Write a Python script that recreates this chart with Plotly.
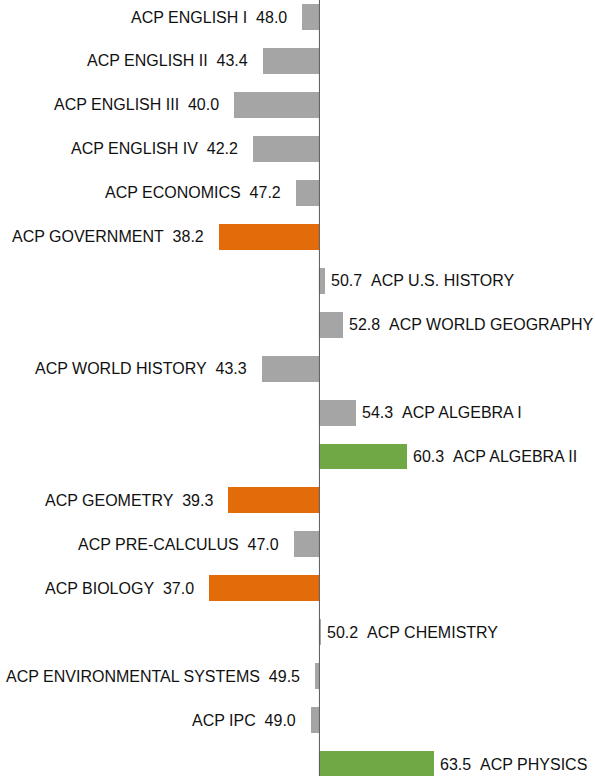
import plotly.graph_objects as go

# Course names, mean scores and highlight groups (top to bottom)
courses = [
    "ACP ENGLISH I", "ACP ENGLISH II", "ACP ENGLISH III", "ACP ENGLISH IV",
    "ACP ECONOMICS", "ACP GOVERNMENT", "ACP U.S. HISTORY", "ACP WORLD GEOGRAPHY",
    "ACP WORLD HISTORY", "ACP ALGEBRA I", "ACP ALGEBRA II", "ACP GEOMETRY",
    "ACP PRE-CALCULUS", "ACP BIOLOGY", "ACP CHEMISTRY", "ACP ENVIRONMENTAL SYSTEMS",
    "ACP IPC", "ACP PHYSICS",
]
scores = [48.0, 43.4, 40.0, 42.2, 47.2, 38.2, 50.7, 52.8, 43.3, 54.3,
          60.3, 39.3, 47.0, 37.0, 50.2, 49.5, 49.0, 63.5]
groups = ["mid", "mid", "mid", "mid", "mid", "low", "mid", "mid", "mid", "mid",
          "high", "low", "mid", "low", "mid", "mid", "mid", "high"]

baseline = 50.0
palette = {"mid": "#A5A5A5", "low": "#E36C0A", "high": "#70A845"}

fig = go.Figure()
fig.add_trace(go.Bar(
    y=courses,
    x=[s - baseline for s in scores],
    base=baseline,
    orientation="h",
    width=0.59,
    marker=dict(color=[palette[g] for g in groups], line=dict(width=0)),
    hoverinfo="skip",
    showlegend=False,
))

font = dict(family="Liberation Sans, Arial, sans-serif", size=16, color="#111111")
for name, s in zip(courses, scores):
    if s < baseline:
        fig.add_annotation(x=s, y=name, text=f"{name}\u00a0\u00a0{s:.1f}",
                           xanchor="right", yanchor="middle", xshift=-13,
                           showarrow=False, font=font)
    else:
        fig.add_annotation(x=s, y=name, text=f"{s:.1f}\u00a0\u00a0{name}",
                           xanchor="left", yanchor="middle", xshift=4,
                           showarrow=False, font=font)

# Vertical reference line at the baseline score
fig.add_shape(type="line", xref="x", yref="paper", x0=baseline, x1=baseline,
              y0=0, y1=1, line=dict(color="#595959", width=1))

fig.update_xaxes(range=[12.42, 82.42], visible=False)
fig.update_yaxes(range=[17.27, -0.387], visible=False, type="category",
                 categoryorder="array", categoryarray=courses)
fig.update_layout(
    width=595, height=776,
    margin=dict(l=0, r=0, t=0, b=0),
    plot_bgcolor="white", paper_bgcolor="white",
    bargap=0,
)

fig.write_html("out.html")
